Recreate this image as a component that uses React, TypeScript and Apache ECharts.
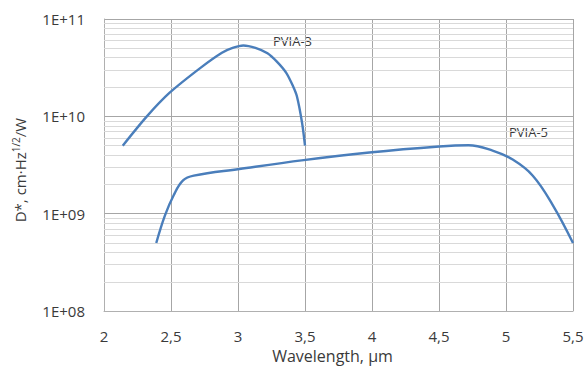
import React, { useEffect, useRef } from "react";
import * as echarts from "echarts";

const xTicks = [2, 2.5, 3, 3.5, 4, 4.5, 5, 5.5];
const yTicks = [1e8, 1e9, 1e10, 1e11];
const pvia3: [number, number][] = [
  [2.14, 5.0e9],
  [2.32, 1.0e10],
  [2.49, 1.75e10],
  [2.72, 3.15e10],
  [2.88, 4.5e10],
  [2.96, 5.05e10],
  [3.04, 5.35e10],
  [3.13, 5.05e10],
  [3.22, 4.45e10],
  [3.29, 3.65e10],
  [3.36, 2.8e10],
  [3.41, 2.05e10],
  [3.44, 1.6e10],
  [3.478, 8.6e9],
  [3.5, 5.0e9],
];
const pvia5: [number, number][] = [
  [2.39, 5.0e8],
  [2.455, 9.6e8],
  [2.52, 1.55e9],
  [2.59, 2.2e9],
  [2.67, 2.46e9],
  [3.01, 2.88e9],
  [3.49, 3.55e9],
  [3.98, 4.25e9],
  [4.5, 4.9e9],
  [4.72, 5.05e9],
  [4.9, 4.45e9],
  [5.05, 3.6e9],
  [5.2, 2.46e9],
  [5.35, 1.22e9],
  [5.5, 5.0e8],
];
const minorLines: number[] = [];
[1e8, 1e9, 1e10].forEach((d) => {
  for (let k = 2; k <= 9; k++) minorLines.push(d * k);
});

const FONT = "'Open Sans', sans-serif";
const TXT = "#3a3a3a";
const LINE = "#4a7ebb";

export default function App() {
  const ref = useRef<HTMLDivElement>(null);
  useEffect(() => {
    if (!ref.current) return;
    const chart = echarts.init(ref.current, undefined, { renderer: "svg" });
    chart.setOption({
      animation: false,
      backgroundColor: "#ffffff",
      textStyle: { fontFamily: FONT },
      grid: { left: 104, right: 14, top: 19, bottom: 56, containLabel: false },
      xAxis: {
        type: "value",
        min: 2,
        max: 5.5,
        interval: 0.5,
        name: "Wavelength, µm",
        nameLocation: "middle",
        nameGap: 36,
        nameTextStyle: { color: TXT, fontSize: 16, fontFamily: FONT, padding: [0, 12, 0, 0] },
        axisLine: { show: true, lineStyle: { color: "#b0b0b0" } },
        axisTick: { show: false },
        axisLabel: {
          color: TXT,
          fontSize: 15,
          fontFamily: FONT,
          margin: 17,
          formatter: (v: number) => (xTicks.includes(v) ? String(v).replace(".", ",") : ""),
        },
        splitLine: { show: true, lineStyle: { color: "#a6a6a6", width: 1 } },
      },
      yAxis: {
        type: "log",
        logBase: 10,
        min: yTicks[0],
        max: yTicks[yTicks.length - 1],
        name: "{a|D*, cm·Hz}{s|1/2}{a|/W}",
        nameLocation: "middle",
        nameGap: 76,
        nameTextStyle: {
          color: TXT,
          fontFamily: FONT,
          padding: [0, 10, 0, 0],
          rich: {
            a: { fontSize: 15, color: TXT, fontFamily: FONT },
            s: { fontSize: 10, color: TXT, fontFamily: FONT, verticalAlign: "top", padding: [0, 0, 7, 0] },
          },
        },
        axisLine: { show: true, lineStyle: { color: "#b0b0b0" } },
        axisTick: { show: false },
        axisLabel: {
          color: TXT,
          fontSize: 15,
          fontFamily: FONT,
          margin: 19,
          formatter: (v: number) => {
            const e = Math.round(Math.log10(v));
            return "1E+" + (e < 10 ? "0" + e : String(e));
          },
        },
        splitLine: { show: true, lineStyle: { color: "#a6a6a6", width: 1 } },
      },
      series: [
        {
          name: "PVIA-3",
          type: "line",
          data: pvia3,
          smooth: 0.3,
          showSymbol: false,
          z: 3,
          lineStyle: { color: LINE, width: 2.4 },
          markLine: {
            z: 1,
            silent: true,
            symbol: "none",
            label: { show: false },
            lineStyle: { color: "#d9d9d9", width: 1, type: "solid" },
            data: minorLines.map((v) => ({ yAxis: v })),
          },
        },
        {
          name: "PVIA-5",
          type: "line",
          data: pvia5,
          smooth: 0.4,
          showSymbol: false,
          z: 3,
          lineStyle: { color: LINE, width: 2.4 },
        },
      ],
      graphic: [
        {
          type: "text",
          left: 273,
          top: 34,
          style: { text: "PVIA-3", fill: TXT, font: `13px ${FONT}` },
        },
        {
          type: "text",
          left: 509,
          top: 125,
          style: { text: "PVIA-5", fill: TXT, font: `13px ${FONT}` },
        },
      ],
    });
    return () => chart.dispose();
  }, []);
  return <div ref={ref} style={{ width: 587, height: 369, position: "absolute", left: 0, top: 0 }} />;
}
